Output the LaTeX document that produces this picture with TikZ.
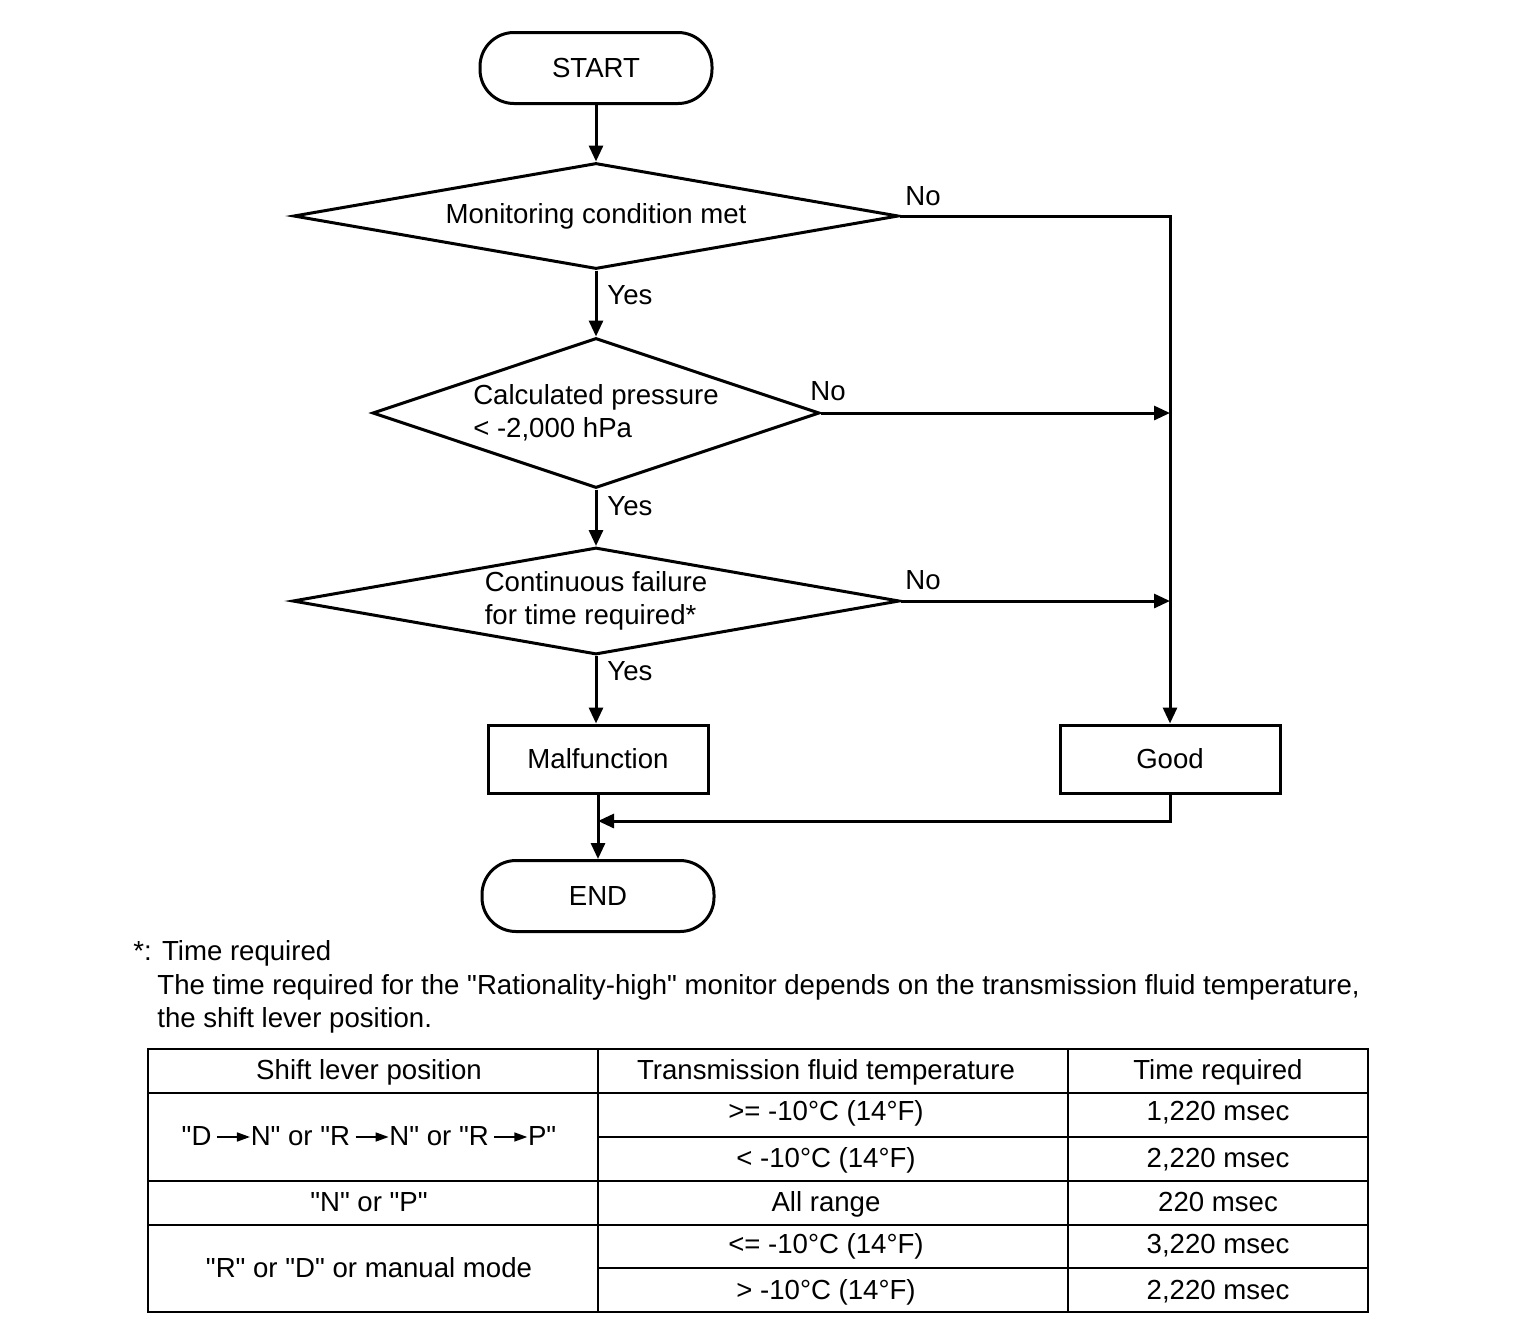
\documentclass[tikz,border=0pt]{standalone}
\usepackage{fontspec}
\newfontfamily\helv{Liberation Sans}
\usetikzlibrary{
    positioning,
    arrows.meta,
    shapes.geometric
}

\newcommand{\shiftto}{\tikz[baseline=-0.55ex]\draw[line width=0.8pt,-{Triangle[length=6.5pt,width=4.5pt]}] (0,0) -- (1.2em,0);}

\begin{document}
\begin{tikzpicture}[
    x=0.5pt, y=-0.5pt,
    font=\helv\fontsize{13.8}{16.75}\selectfont,
    term/.style={
        draw,
        line width=1.5pt,
        rounded corners=17pt,
        minimum width=116pt,
        minimum height=35.5pt
    },
    proc/.style={
        draw,
        line width=1.5pt,
        minimum width=110pt,
        minimum height=34pt
    },
    cond/.style={
        draw,
        diamond,
        line width=1.5pt,
        inner sep=0pt,
        align=left
    },
    lbl/.style={inner sep=0pt, anchor=west},
    arrow/.style={line width=1.5pt, -{Triangle[length=8pt,width=7pt]}},
    cell/.style={inner sep=0pt, text height=9.9pt, text depth=2.9pt},
    grid/.style={line width=1pt},
    thin/.style={line width=0.6pt}
]

% Set bounding box to the full page
\useasboundingbox (0,0) rectangle (1536,1324);

% ================= FLOW =================
\node[term] (start) at (596,68) {START};

\node[cond, minimum width=302.5pt, minimum height=53pt, aspect=5.7] (mon) at (596,216)
{Monitoring condition met};

\node[cond, minimum width=223.5pt, minimum height=75pt, aspect=3] (calc) at (596,413)
{Calculated pressure\\< -2,000 hPa};

\node[cond, minimum width=303.5pt, minimum height=53.5pt, aspect=5.7] (cont) at (596,601)
{Continuous failure\\for time required*};

\node[proc] (mal) at (598,759) {Malfunction};
\node[proc] (good) at (1170,759) {Good};

\node[term] (finish) at (598,896) {END};

% ---- Yes / No labels
\node[lbl] (no1) at (905,196) {No};
\node[lbl] (yes1) at (607,295) {Yes};
\node[lbl] (no2) at (810,391) {No};
\node[lbl] (yes2) at (607,506) {Yes};
\node[lbl] (no3) at (905,580) {No};
\node[lbl] (yes3) at (607,671) {Yes};

% ================= ARROWS =================
\draw[arrow] (start) -- (mon);
\draw[arrow] (mon.east) -| (good.north);
\draw[arrow] (mon) -- (calc);
\draw[arrow] (calc.east) -- (calc.east -| good.north);
\draw[arrow] (calc) -- (cont);
\draw[arrow] (cont.east) -- (cont.east -| good.north);
\draw[arrow] (cont.south) -- (cont.south |- mal.north);
\draw[arrow] (mal) -- (finish);

\coordinate (join) at (mal.south |- 0,821);
\draw[arrow] (good.south) |- (join);

% ================= NOTE =================
\node[lbl] (note) at (133,953) {*: Time required};
\node[lbl] (notea) at (157,987)
{The time required for the "Rationality-high" monitor depends on the transmission fluid temperature,};
\node[lbl] (noteb) at (157,1020) {the shift lever position.};

% ================= TABLE =================
\draw[grid] (148,1049) rectangle (1368,1312);
\draw[grid] (598,1049) -- (598,1312) (1068,1049) -- (1068,1312);
\draw[grid] (148,1093) -- (1368,1093) (148,1181) -- (1368,1181) (148,1225) -- (1368,1225);
\draw[thin] (598,1137) -- (1368,1137) (598,1268) -- (1368,1268);

% ---- header
\node[cell] (hpos) at (369,1072) {Shift lever position};
\node[cell] (htemp) at (826,1072) {Transmission fluid temperature};
\node[cell] (htime) at (1218,1072) {Time required};

% ---- rows
\node[cell] (pos1) at (369,1138) {"D\,\shiftto N" or "R\,\shiftto N" or "R\,\shiftto P"};
\node[cell] (temp1) at (826,1113) {>= -10°C (14°F)};
\node[cell] (time1) at (1218,1113) {1,220 msec};
\node[cell] (temp2) at (826,1160) {< -10°C (14°F)};
\node[cell] (time2) at (1218,1160) {2,220 msec};

\node[cell] (pos2) at (369,1204) {"N" or "P"};
\node[cell] (temp3) at (826,1204) {All range};
\node[cell] (time3) at (1218,1204) {220 msec};

\node[cell] (pos3) at (369,1270) {"R" or "D" or manual mode};
\node[cell] (temp4) at (826,1246) {<= -10°C (14°F)};
\node[cell] (time4) at (1218,1246) {3,220 msec};
\node[cell] (temp5) at (826,1292) {> -10°C (14°F)};
\node[cell] (time5) at (1218,1292) {2,220 msec};

\end{tikzpicture}
\end{document}
